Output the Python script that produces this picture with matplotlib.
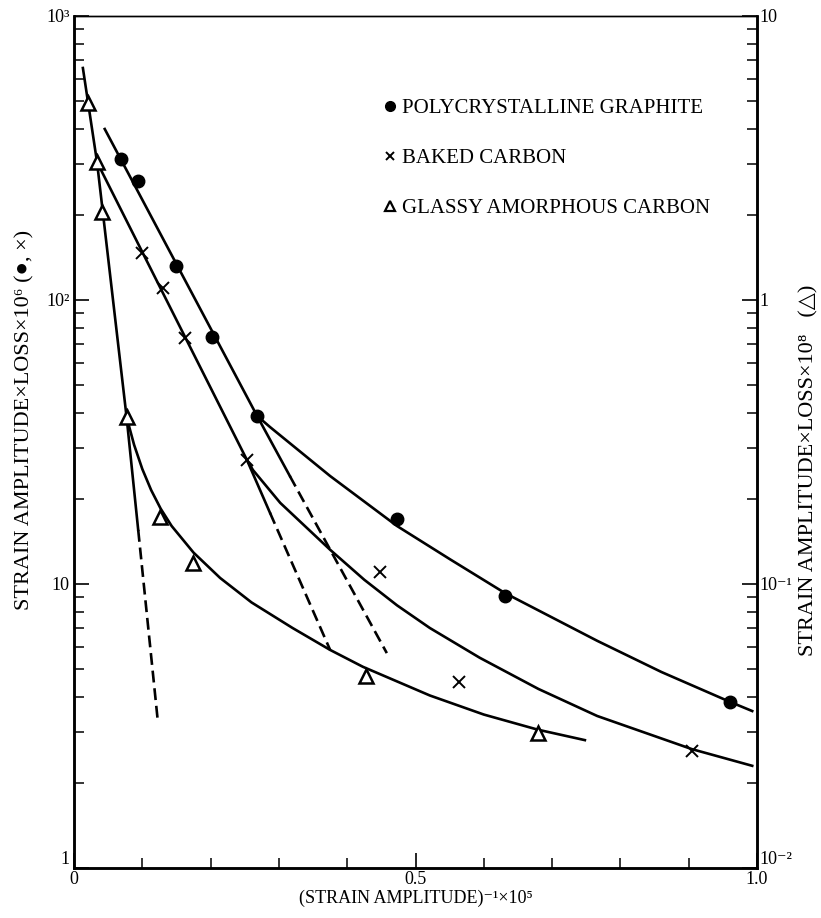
import matplotlib
matplotlib.use('Agg')
import matplotlib.pyplot as plt
from matplotlib.lines import Line2D
from matplotlib.ticker import FixedLocator, LogLocator, NullFormatter, FixedFormatter

plt.rcParams['font.family'] = ['Liberation Serif', 'DejaVu Serif', 'DejaVu Sans']

# measured points (left axis for graphite / baked carbon)
graphite_x = [0.069, 0.094, 0.149, 0.202, 0.268, 0.473, 0.631, 0.960]
graphite_y = [313, 262, 132, 74.1, 39.1, 16.9, 9.08, 3.84]

baked_x = [0.0996, 0.130, 0.163, 0.253, 0.448, 0.564, 0.905]
baked_y = [146, 110, 73.5, 27.4, 11.0, 4.52, 2.58]

# glassy carbon is read on the right axis
glassy_x = [0.0205, 0.0337, 0.041, 0.077, 0.126, 0.174, 0.427, 0.679]
glassy_y = [4.94, 3.06, 2.04, 0.387, 0.172, 0.119, 0.0474, 0.0299]

# hand-drawn fit lines
g_line_x = [0.045, 0.268, 0.316]
g_line_y = [400, 39.1, 24.0]
g_dash_x = [0.316, 0.458]
g_dash_y = [24.0, 5.71]
g_curve_x = [0.268, 0.287, 0.375, 0.473, 0.551, 0.631, 0.766, 0.860, 0.960, 0.993]
g_curve_y = [39.1, 35.7, 24.0, 16.0, 12.2, 9.29, 6.31, 4.90, 3.85, 3.57]

b_line_x = [0.0337, 0.253, 0.287]
b_line_y = [306, 27.4, 17.8]
b_dash_x = [0.287, 0.375]
b_dash_y = [17.8, 5.86]
b_curve_x = [0.253, 0.262, 0.302, 0.375, 0.425, 0.473, 0.521, 0.594, 0.680, 0.766, 0.905, 0.993]
b_curve_y = [27.4, 25.2, 19.3, 13.2, 10.35, 8.41, 7.00, 5.50, 4.27, 3.43, 2.62, 2.29]

gl_line_x = [0.013, 0.0337, 0.077, 0.094]
gl_line_y = [6.56, 3.06, 0.387, 0.155]
gl_dash_x = [0.094, 0.123]
gl_dash_y = [0.155, 0.0324]
gl_curve_x = [0.077, 0.088, 0.100, 0.113, 0.127, 0.143, 0.175, 0.214, 0.260,
              0.320, 0.375, 0.423, 0.521, 0.600, 0.679, 0.748]
gl_curve_y = [0.387, 0.309, 0.254, 0.214, 0.184, 0.160, 0.129, 0.105, 0.0861,
              0.0700, 0.0586, 0.0511, 0.0405, 0.0347, 0.0307, 0.0282]

left_ticks = [1, 10, 100, 1000]
left_labels = ['1', '10', '10²', '10³']
right_ticks = [0.01, 0.1, 1, 10]
right_labels = ['10⁻²', '10⁻¹', '1', '10']
x_ticks = [0, 0.5, 1.0]
x_labels = ['0', '0.5', '1.0']
x_minor = [0.1, 0.2, 0.3, 0.4, 0.6, 0.7, 0.8, 0.9]

fig = plt.figure(figsize=(8.21, 9.18), dpi=100)
ax = fig.add_axes([74 / 821, 1 - 868 / 918, (757 - 74) / 821, (868 - 16) / 918])
ax2 = ax.twinx()

lw = 1.9
dash = (0, (4.5, 2.2))
ax.plot(g_line_x, g_line_y, color='black', lw=lw)
ax.plot(g_dash_x, g_dash_y, color='black', lw=lw, ls=dash)
ax.plot(g_curve_x, g_curve_y, color='black', lw=lw)
ax.plot(b_line_x, b_line_y, color='black', lw=lw)
ax.plot(b_dash_x, b_dash_y, color='black', lw=lw, ls=dash)
ax.plot(b_curve_x, b_curve_y, color='black', lw=lw)
ax2.plot(gl_line_x, gl_line_y, color='black', lw=lw)
ax2.plot(gl_dash_x, gl_dash_y, color='black', lw=lw, ls=dash)
ax2.plot(gl_curve_x, gl_curve_y, color='black', lw=lw)

ax.plot(graphite_x, graphite_y, 'o', color='black', ms=9, zorder=5)
ax.plot(baked_x, baked_y, 'x', color='black', ms=8, mew=1.4, zorder=5)
ax2.plot(glassy_x, glassy_y, '^', mfc='white', mec='black', mew=1.8, ms=10, zorder=5)

ax.set_xlim(0, 1.0)
ax.set_yscale('log')
ax.set_ylim(1, 1000)
ax2.set_yscale('log')
ax2.set_ylim(0.01, 10)

ax.xaxis.set_major_locator(FixedLocator(x_ticks))
ax.xaxis.set_major_formatter(FixedFormatter(x_labels))
ax.xaxis.set_minor_locator(FixedLocator(x_minor))
ax.yaxis.set_major_locator(FixedLocator(left_ticks))
ax.yaxis.set_major_formatter(FixedFormatter(left_labels))
ax.yaxis.set_minor_locator(LogLocator(base=10, subs=range(2, 10)))
ax.yaxis.set_minor_formatter(NullFormatter())
ax2.yaxis.set_major_locator(FixedLocator(right_ticks))
ax2.yaxis.set_major_formatter(FixedFormatter(right_labels))
ax2.yaxis.set_minor_locator(LogLocator(base=10, subs=range(2, 10)))
ax2.yaxis.set_minor_formatter(NullFormatter())

ax.tick_params(axis='both', which='major', direction='in', length=11, width=1.2, labelsize=13, pad=3)
ax.tick_params(axis='x', which='major', pad=2)
ax.tick_params(axis='both', which='minor', direction='in', length=7, width=1.1)
ax2.tick_params(axis='y', which='major', direction='in', length=11, width=1.2, labelsize=13, pad=2)
ax2.tick_params(axis='y', which='minor', direction='in', length=7, width=1.1)
for a in (ax, ax2):
    for s in a.spines.values():
        s.set_linewidth(1.8)
ax.spines['top'].set_linewidth(1.0)
ax2.spines['top'].set_linewidth(1.0)

# bottom labels sit just above the x axis line, as in the original
ax.get_yticklabels()[0].set_verticalalignment('bottom')
ax2.get_yticklabels()[0].set_verticalalignment('bottom')

ax.set_xlabel('(STRAIN AMPLITUDE)⁻¹×10⁵', fontsize=13)
ax.xaxis.set_label_coords(0.5, -0.026)
ax.set_ylabel('STRAIN AMPLITUDE×LOSS×10⁶ (●, ×)', fontsize=16)
ax.yaxis.set_label_coords(-0.058, 0.526)
ax2.set_ylabel('STRAIN AMPLITUDE×LOSS×10⁸   (△)', fontsize=16)
ax2.yaxis.set_label_coords(1.062, 0.467)

handles = [
    Line2D([], [], ls='none', marker='o', color='black', ms=7),
    Line2D([], [], ls='none', marker='x', color='black', ms=6, mew=1.4),
    Line2D([], [], ls='none', marker='^', mfc='white', mec='black', mew=1.6, ms=7),
]
labels = ['POLYCRYSTALLINE GRAPHITE', 'BAKED CARBON', 'GLASSY AMORPHOUS CARBON']
ax.legend(handles, labels, loc='upper left', bbox_to_anchor=(0.455, 0.903),
          frameon=False, fontsize=15, handlelength=0.5, handletextpad=0.35,
          labelspacing=1.45, borderpad=0, borderaxespad=0)

fig.savefig('out.png', dpi=100)
